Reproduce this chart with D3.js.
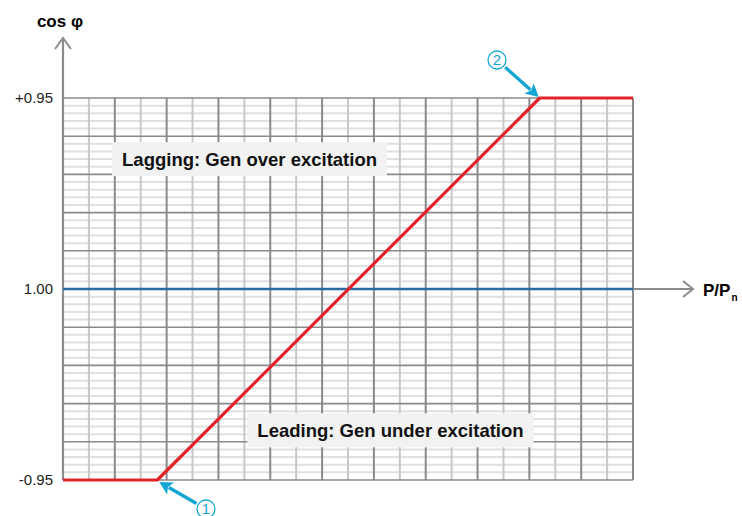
<!DOCTYPE html>
<html>
<head>
<meta charset="utf-8">
<script src="https://d3js.org/d3.v7.min.js"></script>
<style>
  body { margin: 0; background: #fff; }
  text { font-family: "Liberation Sans", Arial, sans-serif; }
</style>
</head>
<body>
<script>
  const width = 742;
  const height = 516;

  // characteristic curve: P/Pn vs signed power factor (-1 = -0.95 leading, +1 = +0.95 lagging)
  const curveP = [0, 0.182, 0.92, 1.1];
  const curveQ = [-1, -1, 1, 1];
  const yTickValues = [1, 0, -1];
  const yTickLabels = ["+0.95", "1.00", "-0.95"];
  const regionLabels = ["Lagging: Gen over excitation", "Leading: Gen under excitation"];
  const regionPos = [[0.36, 0.68], [0.632, -0.74]];
  const markerLabels = ["1", "2"];
  const markerPoints = [[0.182, -1], [0.92, 1]];

  const x = d3.scaleLinear().domain([0, 1.1]).range([63, 633]);
  const y = d3.scaleLinear().domain([-1, 1]).range([480, 98]);

  const svg = d3.select("body").append("svg")
    .attr("width", width)
    .attr("height", height);

  // grid: minor rows (5 per major), columns (2 per major)
  const rowTicks = d3.range(-1, 1.0001, 0.04);
  const colTicks = d3.range(0, 1.1001, 0.05);

  svg.append("g").selectAll("line")
    .data(rowTicks.filter((d, i) => i % 5 !== 0))
    .join("line")
    .attr("x1", x(0)).attr("x2", x(1.1))
    .attr("y1", d => y(d)).attr("y2", d => y(d))
    .attr("stroke", "#e0e0e0").attr("stroke-width", 2);

  svg.append("g").selectAll("line")
    .data(colTicks)
    .join("line")
    .attr("x1", d => x(d)).attr("x2", d => x(d))
    .attr("y1", y(1)).attr("y2", y(-1))
    .attr("stroke", (d, i) => i % 2 === 0 ? "#8a8a8a" : "#c8c8c8")
    .attr("stroke-width", 2);

  svg.append("g").selectAll("line")
    .data(rowTicks.filter((d, i) => i % 5 === 0))
    .join("line")
    .attr("x1", x(0)).attr("x2", x(1.1))
    .attr("y1", d => y(d)).attr("y2", d => y(d))
    .attr("stroke", "#8a8a8a").attr("stroke-width", 1.6);

  // axes with open arrowheads
  const axisColor = "#8c8c8c";
  svg.append("line")
    .attr("x1", x(0)).attr("x2", x(0))
    .attr("y1", y(-1)).attr("y2", 38)
    .attr("stroke", axisColor).attr("stroke-width", 2.2);
  svg.append("path")
    .attr("d", `M${x(0) - 8},49 L${x(0)},38 L${x(0) + 8},49`)
    .attr("fill", "none").attr("stroke", axisColor).attr("stroke-width", 2);

  svg.append("line")
    .attr("x1", x(1.1)).attr("x2", 693)
    .attr("y1", y(0)).attr("y2", y(0))
    .attr("stroke", axisColor).attr("stroke-width", 2);
  svg.append("path")
    .attr("d", `M683,${y(0) - 8} L693,${y(0)} L683,${y(0) + 8}`)
    .attr("fill", "none").attr("stroke", axisColor).attr("stroke-width", 2);

  // unity power factor line
  svg.append("line")
    .attr("x1", x(0)).attr("x2", x(1.1))
    .attr("y1", y(0)).attr("y2", y(0))
    .attr("stroke", "#2a6aa5").attr("stroke-width", 2.5);

  // y tick labels
  svg.append("g").selectAll("text")
    .data(yTickValues)
    .join("text")
    .attr("x", 53)
    .attr("y", d => y(d))
    .attr("dy", "0.35em")
    .attr("text-anchor", "end")
    .attr("font-size", 15)
    .attr("fill", "#222")
    .text((d, i) => yTickLabels[i]);

  // axis titles
  svg.append("text")
    .attr("x", 60).attr("y", 27)
    .attr("text-anchor", "middle")
    .attr("font-size", 17).attr("font-weight", "bold")
    .text("cos φ");

  const pt = svg.append("text")
    .attr("x", 703).attr("y", y(0) + 7)
    .attr("font-size", 17).attr("font-weight", "bold");
  pt.append("tspan").text("P/P");
  pt.append("tspan").attr("font-size", 10).attr("dy", 5).attr("dx", 1).text("n");

  // region labels in boxes
  regionLabels.forEach((lab, i) => {
    const g = svg.append("g");
    const t = g.append("text")
      .attr("x", x(regionPos[i][0]))
      .attr("y", y(regionPos[i][1]))
      .attr("dy", "0.36em")
      .attr("text-anchor", "middle")
      .attr("font-size", 18.5).attr("font-weight", "bold")
      .attr("fill", "#111")
      .text(lab);
    const bb = t.node().getBBox();
    g.insert("rect", "text")
      .attr("x", bb.x - 10).attr("y", y(regionPos[i][1]) - 17)
      .attr("width", bb.width + 20).attr("height", 34)
      .attr("fill", "#f2f2f2");
  });

  // characteristic curve
  svg.append("path")
    .datum(d3.zip(curveP, curveQ))
    .attr("d", d3.line().x(d => x(d[0])).y(d => y(d[1])))
    .attr("fill", "none")
    .attr("stroke", "#e2232a")
    .attr("stroke-width", 3.2)
    .attr("stroke-linejoin", "round");

  // numbered callouts
  const cyan = "#14a6d3";
  const callouts = [
    { c: [206, 509], tip: [markerPoints[0][0], markerPoints[0][1]] },
    { c: [497, 60], tip: [markerPoints[1][0], markerPoints[1][1]] }
  ];
  callouts.forEach((co, i) => {
    const tx = x(co.tip[0]) + (i === 0 ? 2 : -1);
    const ty = y(co.tip[1]) + (i === 0 ? 2 : -1);
    const dx = tx - co.c[0], dy = ty - co.c[1];
    const len = Math.hypot(dx, dy);
    const ux = dx / len, uy = dy / len;
    const sx = co.c[0] + ux * 11, sy = co.c[1] + uy * 11;
    const hx = tx - ux * 13, hy = ty - uy * 13;
    svg.append("line")
      .attr("x1", sx).attr("y1", sy).attr("x2", hx + ux * 2).attr("y2", hy + uy * 2)
      .attr("stroke", cyan).attr("stroke-width", 3.5);
    svg.append("path")
      .attr("d", `M${tx},${ty} L${hx - uy * 7},${hy + ux * 7} L${hx + ux * 3},${hy + uy * 3} L${hx + uy * 7},${hy - ux * 7} Z`)
      .attr("fill", cyan);
    svg.append("circle")
      .attr("cx", co.c[0]).attr("cy", co.c[1]).attr("r", 9)
      .attr("fill", "#fff").attr("stroke", cyan).attr("stroke-width", 1.3);
    svg.append("text")
      .attr("x", co.c[0]).attr("y", co.c[1])
      .attr("dy", "0.36em")
      .attr("text-anchor", "middle")
      .attr("font-size", 15)
      .attr("fill", cyan)
      .text(markerLabels[i]);
  });
</script>
</body>
</html>
